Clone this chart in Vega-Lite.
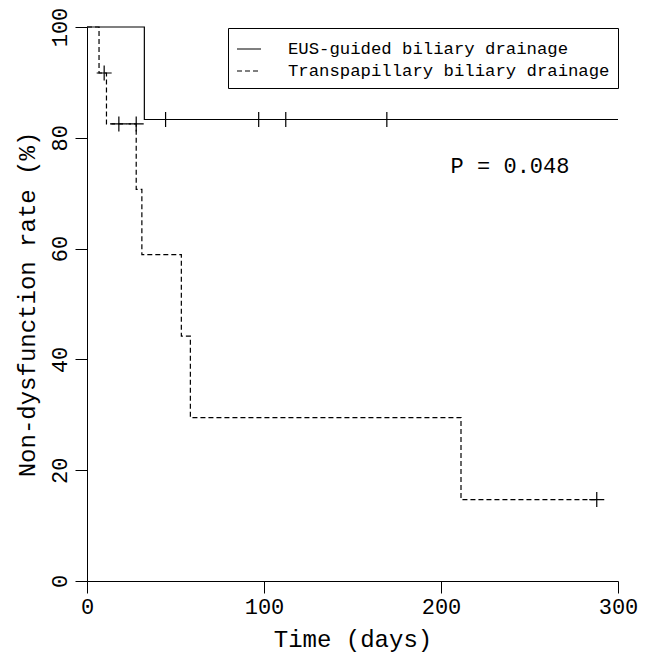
{
  "$schema": "https://vega.github.io/schema/vega-lite/v6.json",
  "width": 531,
  "height": 554,
  "autosize": {"type": "none"},
  "padding": {"left": 87, "top": 27, "right": 32, "bottom": 72},
  "background": "white",
  "config": {
    "view": {"stroke": null},
    "font": "Liberation Mono",
    "axis": {
      "grid": false,
      "domainColor": "black",
      "domainWidth": 1,
      "tickColor": "black",
      "tickWidth": 1,
      "tickSize": 12,
      "labelColor": "black",
      "labelFont": "Liberation Mono",
      "labelFontSize": 22,
      "titleColor": "black",
      "titleFont": "Liberation Mono",
      "titleFontSize": 24,
      "titleFontWeight": "normal"
    }
  },
  "datasets": {
    "curve": [
      {"group": "EUS-guided biliary drainage", "time": 0, "surv": 100},
      {"group": "EUS-guided biliary drainage", "time": 32.4, "surv": 83.3},
      {"group": "EUS-guided biliary drainage", "time": 300, "surv": 83.3},
      {"group": "Transpapillary biliary drainage", "time": 0, "surv": 100},
      {"group": "Transpapillary biliary drainage", "time": 6.8, "surv": 91.7},
      {"group": "Transpapillary biliary drainage", "time": 11.0, "surv": 82.5},
      {"group": "Transpapillary biliary drainage", "time": 27.8, "surv": 70.7},
      {"group": "Transpapillary biliary drainage", "time": 31.0, "surv": 58.9},
      {"group": "Transpapillary biliary drainage", "time": 53.3, "surv": 44.2},
      {"group": "Transpapillary biliary drainage", "time": 58.4, "surv": 29.5},
      {"group": "Transpapillary biliary drainage", "time": 211.3, "surv": 14.7},
      {"group": "Transpapillary biliary drainage", "time": 288, "surv": 14.7}
    ],
    "censor": [
      {"group": "EUS-guided biliary drainage", "time": 44.4, "surv": 83.3},
      {"group": "EUS-guided biliary drainage", "time": 97, "surv": 83.3},
      {"group": "EUS-guided biliary drainage", "time": 112.3, "surv": 83.3},
      {"group": "EUS-guided biliary drainage", "time": 169.4, "surv": 83.3},
      {"group": "Transpapillary biliary drainage", "time": 9.7, "surv": 91.7},
      {"group": "Transpapillary biliary drainage", "time": 18.0, "surv": 82.5},
      {"group": "Transpapillary biliary drainage", "time": 27.8, "surv": 82.5},
      {"group": "Transpapillary biliary drainage", "time": 288, "surv": 14.7}
    ],
    "note": [
      {"time": 239, "surv": 74.9, "label": "P = 0.048"}
    ]
  },
  "layer": [
    {
      "data": {"name": "curve"},
      "mark": {"type": "line", "interpolate": "step-after", "strokeWidth": 1.2, "color": "black"},
      "encoding": {
        "x": {
          "field": "time", "type": "quantitative",
          "scale": {"domain": [0, 300], "nice": false, "zero": false},
          "axis": {"values": [0, 100, 200, 300], "title": "Time (days)", "labelPadding": 3, "titleY": 65, "titleBaseline": "alphabetic", "labelFlush": false, "labelOverlap": false}
        },
        "y": {
          "field": "surv", "type": "quantitative",
          "scale": {"domain": [0, 100], "nice": false, "zero": false},
          "axis": {"values": [0, 20, 40, 60, 80, 100], "title": "Non-dysfunction rate (%)", "labelAngle": -90, "labelPadding": 4, "titleX": -53, "titleY": 277, "titleBaseline": "alphabetic", "titleAngle": -90, "labelFlush": false, "labelOverlap": false}
        },
        "strokeDash": {
          "field": "group", "type": "nominal",
          "scale": {"domain": ["EUS-guided biliary drainage", "Transpapillary biliary drainage"], "range": [[1, 0], [5, 3]]},
          "legend": {
            "orient": "none", "legendX": 141, "legendY": 1,
            "title": null,
            "strokeColor": "black", "padding": 8,
            "symbolType": "stroke", "symbolSize": 576, "symbolStrokeColor": "black", "symbolStrokeWidth": 1.2,
            "labelFont": "Liberation Mono", "labelFontSize": 17.3, "labelColor": "black", "labelOffset": 26, "labelLimit": 500,
            "rowPadding": -4
          }
        }
      }
    },
    {
      "data": {"name": "censor"},
      "mark": {"type": "point", "shape": "M-1,0L1,0M0,-1L0,1", "size": 225, "filled": false, "stroke": "black", "strokeWidth": 1.2, "opacity": 1},
      "encoding": {
        "x": {"field": "time", "type": "quantitative"},
        "y": {"field": "surv", "type": "quantitative"}
      }
    },
    {
      "data": {"name": "note"},
      "mark": {"type": "text", "fontSize": 22, "align": "center", "baseline": "middle", "color": "black", "font": "Liberation Mono"},
      "encoding": {
        "x": {"field": "time", "type": "quantitative"},
        "y": {"field": "surv", "type": "quantitative"},
        "text": {"field": "label"}
      }
    }
  ]
}
